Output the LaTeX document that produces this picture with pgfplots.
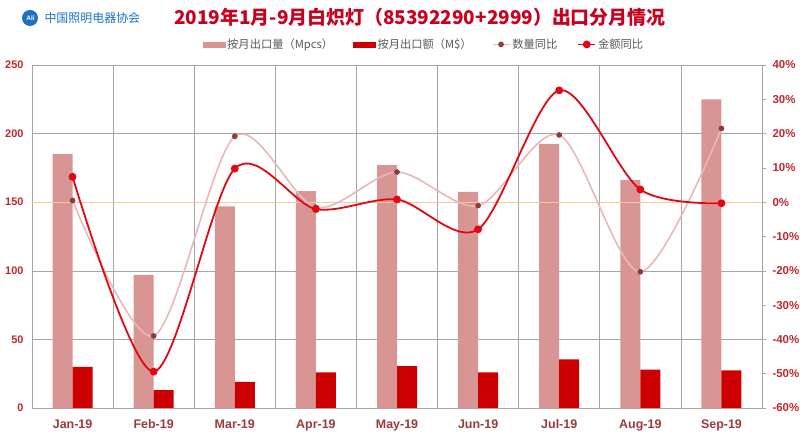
\documentclass[border=0pt]{standalone}
\usepackage{pgfplots}
\pgfplotsset{compat=1.18}
\usepackage{pgfplotstable}
\usepackage{fontspec}
\setmainfont{Liberation Sans}
\newfontfamily\cjk{Noto Sans CJK SC}
\definecolor{barlight}{HTML}{D99594}
\definecolor{bardark}{HTML}{CC0000}
\definecolor{qline}{HTML}{E6B9B8}
\definecolor{qmark}{HTML}{8E3B3B}
\definecolor{vline}{HTML}{E30613}
\definecolor{zeroline}{HTML}{F8C79A}
\definecolor{gridc}{HTML}{A6A6A6}
\definecolor{ticklab}{HTML}{C0272D}
\definecolor{xlab}{HTML}{9B3B3B}
\definecolor{titlec}{HTML}{C8001E}
\definecolor{logoc}{HTML}{1F6FC5}
\definecolor{legtext}{HTML}{595959}
\pgfplotstableread{
x vol val qty amt
0 185 30 0.5 7.4
1 97 13 -39 -49.4
2 147 19 19.2 9.8
3 158 26 -1.5 -2
4 177 30.5 8.8 0.8
5 157.5 26 -1 -7.9
6 192.5 35.5 19.6 32.6
7 166 28 -20.3 3.7
8 225 27.5 21.5 -0.3
}\data
\begin{document}
\begin{tikzpicture}
\useasboundingbox (0,0) rectangle (800bp,441bp);
\fill[logoc] (30bp,423bp) circle (8bp);
\node[text=white, font=\bfseries\fontsize{6.5}{7}\selectfont] at (30.5bp,423bp) {Ali};
\node[anchor=west, text=logoc, font=\cjk\fontsize{12}{13}\selectfont] at (41bp,423bp) {中国照明电器协会};
\node[text=titlec, font=\cjk\bfseries\fontsize{19}{22}\selectfont] at (420bp,424bp) {2019年1月-9月白炽灯（85392290+2999）出口分月情况};
\begin{axis}[at={(32bp,33bp)}, anchor=south west, scale only axis,
  width=730bp, height=343bp,
  xmin=-0.5, xmax=8.5, ymin=0, ymax=250,
  ybar=0pt, bar width=20bp,
  xtick={0,...,8},
  xticklabels={Jan-19,Feb-19,Mar-19,Apr-19,May-19,Jun-19,Jul-19,Aug-19,Sep-19},
  minor xtick={0.5,1.5,...,7.5}, xminorgrids,
  minor grid style={gridc, line width=0.6pt},
  ytick={0,50,...,250}, ymajorgrids,
  major grid style={gridc, line width=0.6pt},
  axis line style={gridc, line width=0.6pt},
  major tick length=0pt, minor tick length=0pt,
  /pgf/number format/assume math mode=true,
  yticklabel style={font=\bfseries\fontsize{11}{12}\selectfont, text=ticklab, xshift=-5bp},
  xticklabel style={font=\bfseries\fontsize{12.5}{14}\selectfont, text=xlab, yshift=-8bp},
]
\addplot[fill=barlight, draw=none] table[x=x,y=vol]{\data};
\addplot[fill=bardark, draw=none] table[x=x,y=val]{\data};
\end{axis}
\begin{axis}[at={(32bp,33bp)}, anchor=south west, scale only axis,
  width=730bp, height=343bp,
  xmin=-0.5, xmax=8.5, ymin=-60, ymax=40,
  axis x line=none, axis y line*=right,
  ytick={-60,-50,...,40},
  yticklabels={-60\%,-50\%,-40\%,-30\%,-20\%,-10\%,0\%,10\%,20\%,30\%,40\%},
  axis line style={gridc, line width=0.6pt},
  ytick style={gridc, line width=0.6pt},
  tick align=outside, major tick length=4bp,
  yticklabel style={font=\bfseries\fontsize{11.5}{13}\selectfont, text=ticklab, xshift=3bp},
  legend style={at={(0.537,1.06)}, anchor=center, draw=none, fill=none,
    font=\cjk\fontsize{11.3}{13}\selectfont, text=legtext,
    /tikz/every even column/.append style={column sep=18bp}},
  legend columns=4, legend cell align=left,
]
\addlegendimage{legend image code/.code={\fill[barlight] (0bp,-2.5bp) rectangle (22bp,2.5bp);}}
\addlegendentry{按月出口量（Mpcs）}
\addlegendimage{legend image code/.code={\fill[bardark] (0bp,-2.5bp) rectangle (22bp,2.5bp);}}
\addlegendentry{按月出口额（M\$）}
\addplot[zeroline, line width=1pt, forget plot] coordinates {(-0.5,0) (8.5,0)};
\addplot[qline, line width=1.6pt, smooth, mark=*, mark size=2bp,
  mark options={fill=qmark, draw=qmark}] table[x=x,y=qty]{\data};
\addlegendentry{数量同比}
\addplot[vline, line width=1.8pt, smooth, mark=*, mark size=3bp,
  mark options={fill=vline, draw=vline}] table[x=x,y=amt]{\data};
\addlegendentry{金额同比}
\end{axis}
\end{tikzpicture}
\end{document}
